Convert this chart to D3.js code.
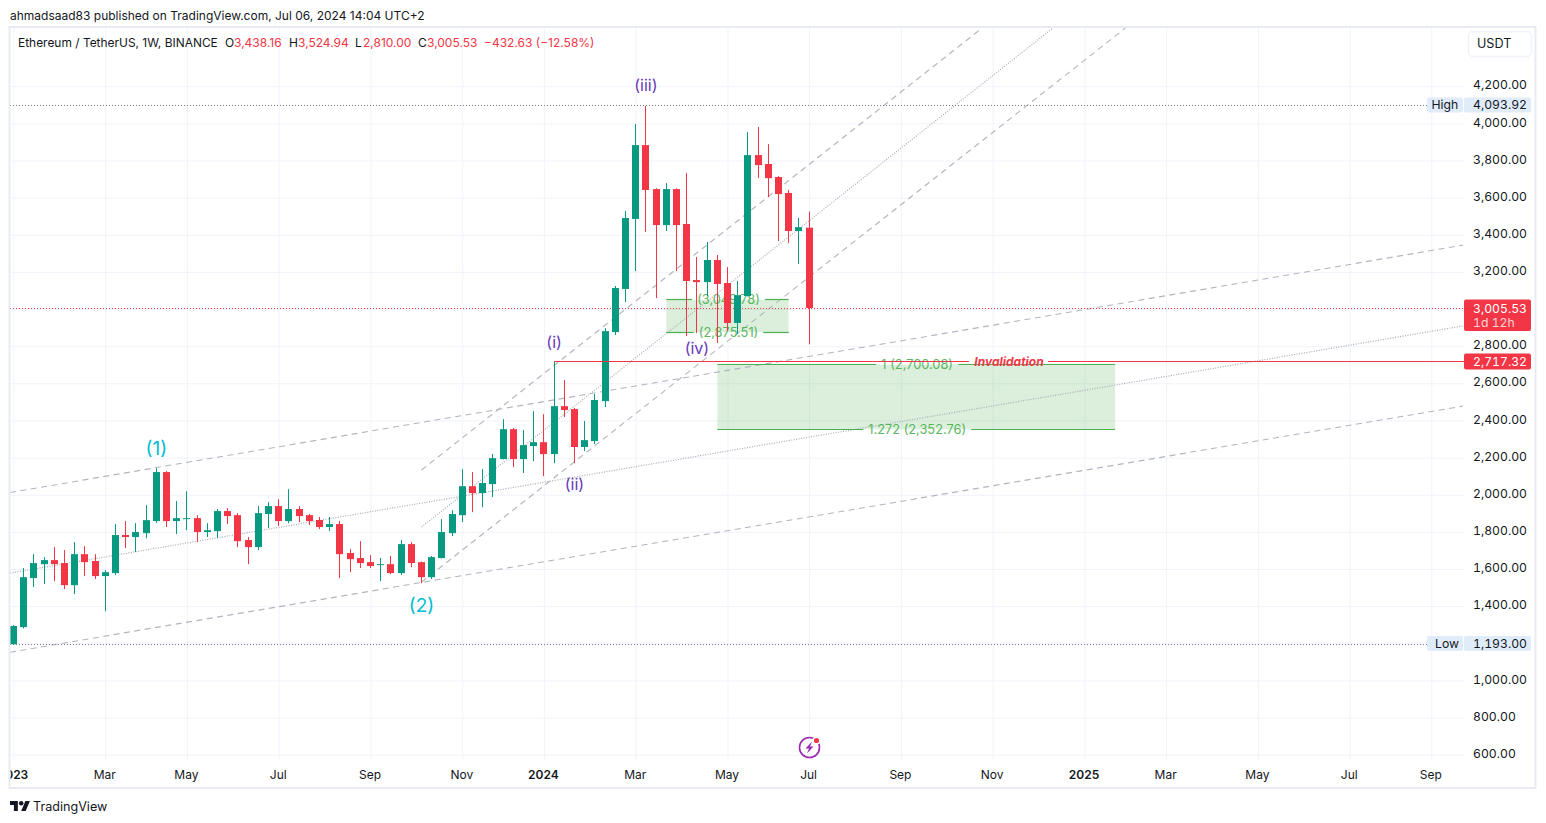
<!DOCTYPE html>
<html>
<head>
<meta charset="utf-8">
<script src="https://cdnjs.cloudflare.com/ajax/libs/d3/7.8.5/d3.min.js"></script>
<style>
  body { margin: 0; background: #fff; }
  text { font-family: Inter, "Noto Sans", sans-serif; fill: #131722; }
  .domain { display: none; }
  .tnum text, text.tnum { font-variant-numeric: tabular-nums; }
</style>
</head>
<body>
<svg width="1546" height="823"></svg>
<script>
// DATA, one weekly candle per index, index 0 = Jan 2 2023
var opens = [1195,1287,1551,1626,1648,1632,1513,1680,1643,1562,1578,1783,1772,1793,1858,2122,1858,1869,1874,1799,1804,1912,1890,1756,1718,1896,1939,1858,1923,1890,1864,1826,1842,1686,1659,1637,1621,1626,1578,1734,1637,1556,1659,1793,1890,2046,2009,2057,2192,2353,2192,2262,2283,2219,2477,2461,2257,2289,2504,2876,3108,3485,3883,3646,3452,3646,3458,3156,3145,3264,3140,2925,3070,3829,3781,3711,3625,3420,3438.16];
var highs = [1298,1605,1680,1664,1718,1702,1745,1723,1680,1594,1842,1858,1847,1944,2143,2127,1966,2019,1890,1847,1923,1928,1901,1772,1939,1960,1976,2030,1939,1896,1880,1880,1858,1707,1750,1675,1659,1670,1756,1745,1640,1670,1869,1917,2138,2122,2138,2219,2407,2359,2348,2450,2434,2718,2617,2467,2397,2542,2897,3124,3528,3996,4093.92,3650,3678,3650,3732,3280,3361,3291,3226,3151,3953,3980,3888,3716,3641,3490,3524.94];
var lows = [1193,1280,1503,1519,1535,1492,1465,1562,1546,1373,1567,1713,1691,1766,1847,1826,1788,1809,1745,1772,1766,1842,1718,1626,1702,1820,1831,1847,1853,1837,1815,1804,1551,1583,1605,1605,1535,1573,1567,1610,1524,1546,1657,1777,1853,1906,1933,1987,2190,2149,2117,2181,2100,2170,2418,2170,2235,2273,2472,2860,3038,3205,3415,3059,3420,3205,2855,2871,3070,2817,2882,2865,3068,3705,3603,3366,3355,3242,2810];
var closes = [1293,1556,1632,1648,1626,1513,1680,1637,1562,1583,1783,1772,1799,1863,2122,1858,1874,1874,1799,1809,1912,1885,1750,1718,1901,1939,1858,1923,1885,1858,1826,1842,1680,1653,1632,1616,1626,1578,1734,1632,1556,1664,1799,1896,2046,2009,2063,2197,2353,2192,2267,2283,2219,2477,2456,2257,2294,2510,2881,3113,3490,3883,3641,3452,3646,3452,3151,3145,3264,3135,2925,3075,3829,3775,3705,3619,3420,3441,3005.53];

var priceTicks = [600,800,1000,1200,1400,1600,1800,2000,2200,2400,2600,2800,3000,3200,3400,3600,3800,4000,4200];
var timeTickIdx = [0,9,17,26,35,44,52,61,70,78,87,96,105,113,122,131,139];
var timeTickLabels = ["2023","Mar","May","Jul","Sep","Nov","2024","Mar","May","Jul","Sep","Nov","2025","Mar","May","Jul","Sep"];
var yearLabels = ["2023","2024","2025"];

// DRAWINGS, [idx0, price0, idx1, price1]
var dashedLines = [[-0.34,2012,142.1,3344],[-0.34,1152,142.1,2477],[40,1529,109,4513],[40,2133,94.7,4502]];
var dottedLines = [[-0.34,1578,142.1,2909],[40,1826,101.9,4513]];

var waveNames = ["(iii)","(i)","(ii)","(iv)","(1)","(2)"];
var waveIdx = [62,53,55,67,14,40];
var wavePrice = [4206,2822,2057,2790,2251,1406];
var waveColors = ["#673ab7","#673ab7","#673ab7","#673ab7","#00bcd4","#00bcd4"];

var lastPrice = 3005.53, highPrice = 4093.92, lowPrice = 1193, invalidPrice = 2717.32;

var green = "#089981", red = "#F23645", gridColor = "#f0f3fa", fibGreen = "#4caf50";

var svg = d3.select("svg");

// SCALES
var x = d3.scaleLinear().domain([0, 139]).range([13.5, 1431.3]);
var y = d3.scaleLinear().domain([600, 4200]).range([754.7, 86.2]);
var chartRight = 1464, chartTop = 28, chartBottom = 760, chartLeft = 10;

svg.append("defs").append("clipPath").attr("id", "plot")
  .append("rect").attr("x", chartLeft).attr("y", chartTop)
  .attr("width", chartRight - chartLeft).attr("height", chartBottom - chartTop);

// GRID
var yGrid = svg.append("g").attr("transform", `translate(${chartRight},0)`)
  .call(d3.axisLeft(y).tickValues(priceTicks).tickSize(chartRight - chartLeft).tickFormat(""));
yGrid.selectAll("line").attr("stroke", gridColor);

var xGrid = svg.append("g").attr("transform", `translate(0,${chartBottom})`)
  .call(d3.axisBottom(x).tickValues(timeTickIdx).tickSize(chartTop - chartBottom).tickFormat(""));
xGrid.selectAll("line").attr("stroke", gridColor);

var plot = svg.append("g").attr("clip-path", "url(#plot)");

// FIB BOXES
function fibBox(i0, i1, top, bottom) {
  plot.append("rect")
    .attr("x", x(i0)).attr("y", y(top))
    .attr("width", x(i1) - x(i0)).attr("height", y(bottom) - y(top))
    .attr("fill", fibGreen).attr("opacity", 0.2);
}
fibBox(64, 76, 3049.78, 2875.51);
fibBox(69, 108, 2700.08, 2352.76);

// TREND LINES
plot.selectAll(".dashed").data(dashedLines).enter().append("line")
  .attr("x1", d => x(d[0])).attr("y1", d => y(d[1]))
  .attr("x2", d => x(d[2])).attr("y2", d => y(d[3]))
  .attr("stroke", "#b2b5be").attr("stroke-width", 1.1).attr("stroke-dasharray", "6 4.5");
plot.selectAll(".dotted").data(dottedLines).enter().append("line")
  .attr("x1", d => x(d[0])).attr("y1", d => y(d[1]))
  .attr("x2", d => x(d[2])).attr("y2", d => y(d[3]))
  .attr("stroke", "#a8abb5").attr("stroke-width", 1.2).attr("stroke-dasharray", "1 1.5");

// HORIZONTAL PRICE LINES
function crisp(v) { return Math.floor(v) + 0.5; }
[highPrice, lowPrice].forEach(p => {
  plot.append("line").attr("x1", chartLeft).attr("x2", 1427)
    .attr("y1", crisp(y(p))).attr("y2", crisp(y(p)))
    .attr("stroke", "#787b86").attr("stroke-dasharray", "1 2");
});
plot.append("line").attr("x1", chartLeft).attr("x2", chartRight)
  .attr("y1", crisp(y(lastPrice))).attr("y2", crisp(y(lastPrice)))
  .attr("stroke", red).attr("stroke-dasharray", "1 2");

// FIB LEVEL LINE WITH A GAP FOR ITS LABEL
function fibLevel(i0, i1, price, label) {
  var cx = (x(i0) + x(i1)) / 2 + 1;
  var py = crisp(y(price));
  var t = plot.append("text").attr("x", cx).attr("y", py)
    .attr("text-anchor", "middle").attr("dominant-baseline", "central")
    .attr("font-size", 12.8).style("fill", fibGreen).style("opacity", 0.9).text(label);
  var w = t.node().getComputedTextLength() / 2 + 5;
  [[x(i0), cx - w], [cx + w, x(i1)]].forEach(s => {
    plot.append("line").attr("x1", s[0]).attr("x2", s[1]).attr("y1", py).attr("y2", py)
      .attr("stroke", fibGreen).attr("stroke-width", 1.2);
  });
}
fibLevel(64, 76, 3049.78, "(3,049.78)");
fibLevel(64, 76, 2875.51, "(2,875.51)");
fibLevel(69, 108, 2700.08, "1 (2,700.08)");
fibLevel(69, 108, 2352.76, "1.272 (2,352.76)");

// CANDLES
var candles = opens.map((o, i) => ({ i: i, o: o, h: highs[i], l: lows[i], c: closes[i] }));
var candle = plot.selectAll(".candle").data(candles).enter().append("g").attr("class", "candle");
candle.append("line")
  .attr("x1", d => Math.round(x(d.i) - 0.5) + 0.5).attr("x2", d => Math.round(x(d.i) - 0.5) + 0.5)
  .attr("y1", d => y(d.h)).attr("y2", d => y(d.l))
  .attr("stroke", d => d.c >= d.o ? green : red);
candle.append("rect")
  .attr("x", d => Math.round(x(d.i) - 0.5) - 3).attr("width", 7)
  .attr("y", d => y(Math.max(d.o, d.c)))
  .attr("height", d => Math.max(1, Math.abs(y(d.o) - y(d.c))))
  .attr("fill", d => d.c >= d.o ? green : red);

// INVALIDATION LINE
var invY = crisp(y(invalidPrice));
plot.append("line").attr("x1", x(53)).attr("x2", 969).attr("y1", invY).attr("y2", invY).attr("stroke", red);
plot.append("line").attr("x1", 1048).attr("x2", chartRight).attr("y1", invY).attr("y2", invY).attr("stroke", red);
svg.append("text").attr("x", 1009).attr("y", invY).attr("text-anchor", "middle")
  .attr("dominant-baseline", "central").attr("font-size", 12).attr("font-weight", 700)
  .attr("font-style", "italic").style("fill", red).text("Invalidation");

// WAVE LABELS
svg.selectAll(".wave").data(waveNames).enter().append("text")
  .attr("x", (d, i) => x(waveIdx[i])).attr("y", (d, i) => y(wavePrice[i]))
  .attr("text-anchor", "middle").attr("dominant-baseline", "central")
  .attr("font-size", (d, i) => i > 3 ? 19 : 16)
  .style("fill", (d, i) => waveColors[i]).text(d => d);

// PRICE AXIS
var yAxis = svg.append("g").attr("class", "tnum").attr("transform", "translate(1473,0)")
  .call(d3.axisRight(y).tickValues(priceTicks.filter(d => d != 3000 && d != 1200)).tickSize(0).tickFormat(d3.format(",.2f")));
yAxis.selectAll("line").remove();
yAxis.selectAll("text").attr("x", 0).attr("dy", "0.22em").attr("font-size", 12.2)
  .attr("font-family", "Inter").style("fill", "#131722");

// TIME AXIS
var xAxis = svg.append("g").attr("transform", "translate(-1,760)")
  .call(d3.axisBottom(x).tickValues(timeTickIdx).tickSize(0).tickFormat((d, i) => timeTickLabels[i]));
xAxis.selectAll("text").attr("y", 15).attr("dy", "0.32em").attr("font-size", 12)
  .attr("font-family", "Inter")
  .attr("font-weight", (d, i) => yearLabels.indexOf(timeTickLabels[i]) >= 0 ? 600 : 400)
  .style("fill", "#131722");
// "2023" runs off the chart's left edge in the original
svg.append("rect").attr("x", 0).attr("y", 762).attr("width", 9).attr("height", 24).attr("fill", "#fff");

// PRICE TAGS
function tag(px, py, w, h, fill) {
  svg.append("rect").attr("x", px).attr("y", py).attr("width", w).attr("height", h)
    .attr("rx", 2).attr("fill", fill);
}
function tagText(px, py, txt, color, size) {
  svg.append("text").attr("class", size ? null : "tnum").attr("x", px).attr("y", py).attr("dominant-baseline", "central")
    .attr("font-size", size || 12.2).style("fill", color).text(txt);
}
[[highPrice, "High", "4,093.92"], [lowPrice, "Low", "1,193.00"]].forEach(r => {
  var py = y(r[0]) - 1;
  tag(1427, py - 7.5, 36, 15, "#e1ecfb");
  tag(1464, py - 7.5, 67, 15, "#e1ecfb");
  tagText(r[1] == "High" ? 1431.5 : 1435, py, r[1], "#131722");
  tagText(1473, py, r[2], "#131722");
});
tag(1464, y(lastPrice) - 8.5, 67, 31.5, red);
tagText(1473, y(lastPrice), "3,005.53", "#fff");
tagText(1473, y(lastPrice) + 14, "1d 12h", "rgba(255,255,255,0.8)");
tag(1464, y(invalidPrice) - 8, 67, 16, red);
tagText(1473, y(invalidPrice) - 0.5, "2,717.32", "#fff");

// FRAME
svg.append("rect").attr("x", 9.5).attr("y", 27).attr("width", 1526).attr("height", 761)
  .attr("fill", "none").attr("stroke", "#e9ebf2").attr("stroke-width", 2);

// CURRENCY BUTTON
svg.append("rect").attr("x", 1468.5).attr("y", 31.5).attr("width", 63).attr("height", 25)
  .attr("rx", 4).attr("fill", "#fff").attr("stroke", "#f0f3fa").attr("stroke-width", 1.5);
tagText(1477, 43, "USDT", "#131722", 12.6);

// HEADER
tagText(10, 15, "ahmadsaad83 published on TradingView.com, Jul 06, 2024 14:04 UTC+2", "#131722", 12);
tagText(18, 42.5, "Ethereum / TetherUS, 1W, BINANCE", "#131722", 11.95);
var legendNames = ["O", "H", "L", "C"];
var legendNameX = [225, 289, 355, 418];
var legendValues = ["3,438.16", "3,524.94", "2,810.00", "3,005.53"];
var legendValueX = [234, 298, 363, 427];
legendNames.forEach((n, i) => {
  tagText(legendNameX[i], 42.5, n, "#131722", 12);
  tagText(legendValueX[i], 42.5, legendValues[i], red, 12);
});
tagText(484, 42.5, "\u2212432.63 (\u221212.58%)", red, 12);

// SPARK ICON
var spark = svg.append("g").attr("transform", "translate(809.5,747.5)");
spark.append("circle").attr("r", 10).attr("fill", "none").attr("stroke", "#9c27b0").attr("stroke-width", 1.6);
spark.append("path").attr("d", "M2.5,-6 L-4,1 L-0.5,1 L-2.5,6 L4,-1 L0.5,-1 Z").attr("fill", "#9c27b0");
spark.append("circle").attr("cx", 7).attr("cy", -7).attr("r", 4).attr("fill", "#fff");
spark.append("circle").attr("cx", 7).attr("cy", -7).attr("r", 2.6).attr("fill", red);

// LOGO
svg.append("g").attr("transform", "translate(10,801) scale(0.56)").attr("fill", "#131722")
  .call(g => {
    g.append("path").attr("d", "M14 18H7V7H0V0h14v18zM28 18h-8l7.5-18h8L28 18z");
    g.append("circle").attr("cx", 20).attr("cy", 4).attr("r", 4);
  });
tagText(33, 806, "TradingView", "#131722", 12.6);
</script>
</body>
</html>
